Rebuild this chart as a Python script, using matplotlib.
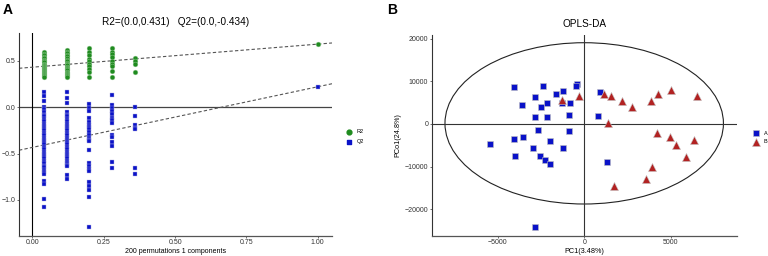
import matplotlib.pyplot as plt
from matplotlib.patches import Ellipse

plt.rcParams['font.family'] = ['Liberation Sans', 'DejaVu Sans']

# ---- panel A: permutation test ----
r2_x = [0.04, 0.12, 0.20, 0.28, 0.36, 1.0]
r2_y = [
    [0.59, 0.57, 0.56, 0.54, 0.53, 0.51, 0.50, 0.49, 0.47, 0.46, 0.45, 0.44, 0.43,
     0.42, 0.41, 0.40, 0.39, 0.38, 0.37, 0.36, 0.35, 0.34, 0.33],
    [0.62, 0.60, 0.58, 0.56, 0.55, 0.53, 0.51, 0.50, 0.48, 0.47, 0.46, 0.45, 0.43,
     0.42, 0.41, 0.40, 0.38, 0.37, 0.36, 0.35, 0.34, 0.33],
    [0.64, 0.60, 0.56, 0.52, 0.50, 0.47, 0.44, 0.41, 0.38, 0.32],
    [0.64, 0.60, 0.57, 0.54, 0.50, 0.47, 0.44, 0.39, 0.32],
    [0.53, 0.50, 0.47, 0.38],
    [0.68],
]
q2_y = [
    [0.16, 0.12, 0.07, 0.00, -0.02, -0.05, -0.08, -0.10, -0.13, -0.15, -0.18, -0.20,
     -0.23, -0.25, -0.28, -0.30, -0.33, -0.35, -0.38, -0.40, -0.43, -0.45, -0.48,
     -0.50, -0.53, -0.55, -0.58, -0.60, -0.63, -0.65, -0.68, -0.70, -0.72, -0.80,
     -0.83, -0.99, -1.08],
    [0.16, 0.10, 0.05, -0.05, -0.08, -0.10, -0.13, -0.15, -0.18, -0.20, -0.23, -0.25,
     -0.28, -0.30, -0.33, -0.35, -0.38, -0.40, -0.43, -0.45, -0.48, -0.50, -0.53,
     -0.55, -0.58, -0.60, -0.62, -0.64, -0.73, -0.77],
    [0.03, -0.01, -0.04, -0.12, -0.16, -0.19, -0.21, -0.24, -0.27, -0.30, -0.33, -0.35,
     -0.37, -0.46, -0.60, -0.64, -0.67, -0.69, -0.81, -0.85, -0.89, -0.97, -1.29],
    [0.13, 0.02, -0.01, -0.04, -0.07, -0.12, -0.14, -0.17, -0.30, -0.32, -0.38, -0.42,
     -0.59, -0.66],
    [0.00, -0.10, -0.19, -0.22, -0.24, -0.66, -0.72],
    [0.22],
]
r2_intercept = 0.431
q2_intercept = -0.434

# ---- panel B: OPLS-DA scores ----
a_x = [-4077, -2365, -442, -481, -1231, -1654, -2846, -2135, -1308, -827, -3577,
       -2500, -2827, -2154, -904, 769, 923, -2654, -904, -3558, -4077, -5423,
       -1962, -2962, -1231, -4000, -2558, -2269, -1981, 1288, -2827]
a_y = [8611, 9002, 9394, 8924, 7671, 7123, 6262, 4853, 5010, 5010, 4462, 3914,
       1722, 1722, 2035, 1957, 7436, -1331, -1566, -3053, -3523, -4775, -3992,
       -5636, -5558, -7437, -7593, -8376, -9394, -9002, -24110]
b_x = [-1308, -288, 1135, 1538, 2192, 2731, 3846, 4231, 5019, 6481, 1346, 4192,
       4962, 5288, 6346, 5865, 3885, 3577, 1731]
b_y = [5636, 6575, 6967, 6654, 5480, 4071, 5401, 7045, 7906, 6575, 235, -2114,
       -2975, -4853, -3836, -7828, -10020, -12994, -14560]

blue = '#0a12c8'
green = '#1f8b1f'
red = '#b22222'

fig = plt.figure(figsize=(7.68, 2.56), dpi=100)
W, H = 768, 256


def px_axes(l, t, r, b):
    return fig.add_axes([l / W, (H - b) / H, (r - l) / W, (b - t) / H])


# panel A
ax = px_axes(19, 33, 332, 236)
for x, ys in zip(r2_x, r2_y):
    ax.scatter([x] * len(ys), ys, s=12, marker='o', color=green,
               edgecolors='#9acd9a', linewidths=0.3, zorder=3)
for x, ys in zip(r2_x, q2_y):
    ax.scatter([x] * len(ys), ys, s=10, marker='s', color=blue,
               edgecolors='#b0b0e0', linewidths=0.3, zorder=3)
ax.set_xlim(-0.047, 1.05)
ax.set_ylim(-1.39, 0.80)
ax.axhline(0, color='#444444', lw=0.9, zorder=1)
ax.axvline(0, color='black', lw=0.8, zorder=1)
xx = [-0.047, 1.05]
ax.plot(xx, [r2_intercept + (r2_y[-1][0] - r2_intercept) * v for v in xx],
        ls=(0, (3, 2)), color='#555555', lw=0.8, zorder=2)
ax.plot(xx, [q2_intercept + (q2_y[-1][0] - q2_intercept) * v for v in xx],
        ls=(0, (3, 2)), color='#555555', lw=0.8, zorder=2)
ax.set_xticks([0, 0.25, 0.5, 0.75, 1.0])
ax.set_xticklabels(['0.00', '0.25', '0.50', '0.75', '1.00'])
ax.set_yticks([-1.0, -0.5, 0.0, 0.5])
ax.set_xlabel('200 permutations 1 components', fontsize=5, labelpad=1)
ax.set_title('R2=(0.0,0.431)   Q2=(0.0,-0.434)', fontsize=7.2, pad=6)
ax.scatter([], [], s=12, marker='o', color=green, label='R2')
ax.scatter([], [], s=10, marker='s', color=blue, label='Q2')
ax.legend(loc='center left', bbox_to_anchor=(1.02, 0.49), frameon=False,
          fontsize=4, handletextpad=0.4, labelspacing=0.9)

# panel B
bx = px_axes(431.7, 35, 736.7, 235.7)
bx.add_patch(Ellipse((0, 150), 2 * 8034, 2 * 18930, fill=False,
                     edgecolor='#222222', lw=0.8, zorder=1))
bx.axhline(0, color='#333333', lw=0.8, zorder=1)
bx.axvline(0, color='#333333', lw=0.8, zorder=1)
bx.scatter(a_x, a_y, s=24, marker='s', color=blue, edgecolors='#c0c0c0',
           linewidths=0.4, zorder=3, label='A')
bx.scatter(b_x, b_y, s=34, marker='^', color=red, edgecolors='#c8c8c8',
           linewidths=0.4, zorder=3, label='B')
bx.set_xlim(-8800, 8800)
bx.set_ylim(-26220, 20890)
bx.set_xticks([-5000, 0, 5000])
bx.set_yticks([-20000, -10000, 0, 10000, 20000])
bx.set_xlabel('PC1(3.48%)', fontsize=5.2, labelpad=1)
bx.set_ylabel('PCo1(24.8%)', fontsize=5.2, labelpad=2)
bx.set_title('OPLS-DA', fontsize=7.2, pad=6)
bx.legend(loc='center left', bbox_to_anchor=(1.03, 0.49), frameon=False,
          fontsize=4, handletextpad=0.3, labelspacing=0.6)

for a in (ax, bx):
    for side in ('top', 'right'):
        a.spines[side].set_visible(False)
    a.spines['left'].set_color('#333333')
    a.spines['bottom'].set_color('#555555')
    a.spines['left'].set_linewidth(0.8)
    a.spines['bottom'].set_linewidth(0.9)
    a.tick_params(labelsize=5, length=1.5, width=0.5, pad=1, colors='#333333')

fig.text(3 / W, 1 - 14 / H, 'A', fontsize=10, fontweight='bold')
fig.text(387 / W, 1 - 14 / H, 'B', fontsize=10, fontweight='bold')

fig.savefig('out.png', dpi=100)
